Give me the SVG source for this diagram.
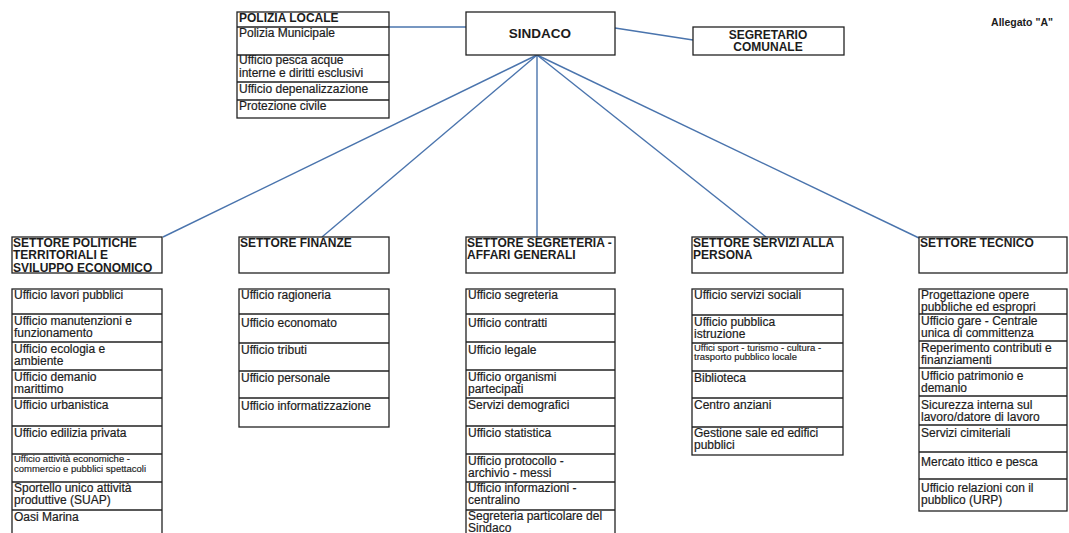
<svg xmlns="http://www.w3.org/2000/svg" width="1069" height="533" viewBox="0 0 1069 533">
<style>
.bg{fill:#fff}
.box{fill:#fff;stroke:#222;stroke-width:1.3}
.ln{stroke:#222;stroke-width:1.3;fill:none}
.conn{stroke:#4a74ad;stroke-width:1.4;fill:none}
text{font-family:"Liberation Sans",Arial,sans-serif;fill:#1c1c1c}
.t{font-size:12px;stroke:#1c1c1c;stroke-width:0.2}
.s{font-size:9.5px;stroke:#1c1c1c;stroke-width:0.15}
.h{font-size:12px;font-weight:bold}
.big{font-size:13.5px;font-weight:bold}
.mid{text-anchor:middle}
</style>
<rect class="bg" x="0" y="0" width="1069" height="533"/>
<g id="connectors">
<line class="conn" x1="389" y1="27" x2="466" y2="27"/>
<line class="conn" x1="615" y1="28" x2="693" y2="40"/>
<line class="conn" x1="537" y1="55" x2="163" y2="237"/>
<line class="conn" x1="537" y1="55" x2="322" y2="237"/>
<line class="conn" x1="537" y1="55" x2="537" y2="237"/>
<line class="conn" x1="537" y1="55" x2="766" y2="237"/>
<line class="conn" x1="537" y1="55" x2="919" y2="238"/>
</g>
<g id="allegato"><text class="h" x="1053" y="26" text-anchor="end" style="font-size:10.5px">Allegato "A"</text></g>
<g id="sindaco">
<rect class="box" x="466" y="12" width="149" height="43"/>
<text class="big mid" x="540" y="38">SINDACO</text>
</g>
<g id="segretario">
<rect class="box" x="693" y="27" width="151" height="28"/>
<text class="h mid" x="768" y="38.5">SEGRETARIO</text>
<text class="h mid" x="768" y="50.5">COMUNALE</text>
</g>
<g id="polizia">
<rect class="box" x="237" y="12" width="152" height="106"/>
<path class="ln" d="M237 27H389M237 55H389M237 82H389M237 100H389"/>
<text class="h" x="239" y="22">POLIZIA LOCALE</text>
<text class="t" x="239" y="37">Polizia Municipale</text>
<text class="t" x="239" y="64">Ufficio pesca acque</text>
<text class="t" x="239" y="77">interne e diritti esclusivi</text>
<text class="t" x="239" y="93">Ufficio depenalizzazione</text>
<text class="t" x="239" y="110">Protezione civile</text>
</g>
<g id="settore-politiche">
<rect class="box" x="12" y="237" width="150" height="36"/>
<text class="h" x="13" y="246.5">SETTORE POLITICHE</text>
<text class="h" x="13" y="259">TERRITORIALI E</text>
<text class="h" x="13" y="271.5">SVILUPPO ECONOMICO</text>
</g>
<g id="uffici-politiche">
<rect class="box" x="12" y="289" width="150" height="252"/>
<path class="ln" d="M12 314H162M12 342H162M12 370H162M12 398H162M12 426H162M12 454H162M12 482H162M12 510H162"/>
<text class="t" x="14" y="299">Ufficio lavori pubblici</text>
<text class="t" x="14" y="325">Ufficio manutenzioni e</text>
<text class="t" x="14" y="337">funzionamento</text>
<text class="t" x="14" y="353">Ufficio ecologia e</text>
<text class="t" x="14" y="365">ambiente</text>
<text class="t" x="14" y="381">Ufficio demanio</text>
<text class="t" x="14" y="393">marittimo</text>
<text class="t" x="14" y="409">Ufficio urbanistica</text>
<text class="t" x="14" y="437">Ufficio edilizia privata</text>
<text class="s" x="14" y="461.5">Ufficio attività economiche -</text>
<text class="s" x="14" y="471.5">commercio e pubblici spettacoli</text>
<text class="t" x="14" y="492">Sportello unico attività</text>
<text class="t" x="14" y="504">produttive (SUAP)</text>
<text class="t" x="14" y="521">Oasi Marina</text>
</g>
<g id="settore-finanze">
<rect class="box" x="239" y="237" width="150" height="36"/>
<text class="h" x="240" y="246.5">SETTORE FINANZE</text>
</g>
<g id="uffici-finanze">
<rect class="box" x="239" y="289" width="150" height="138"/>
<path class="ln" d="M239 314H389M239 343H389M239 371H389M239 398H389"/>
<text class="t" x="241" y="299">Ufficio ragioneria</text>
<text class="t" x="241" y="327">Ufficio economato</text>
<text class="t" x="241" y="354">Ufficio tributi</text>
<text class="t" x="241" y="382">Ufficio personale</text>
<text class="t" x="241" y="410">Ufficio informatizzazione</text>
</g>
<g id="settore-segreteria">
<rect class="box" x="466" y="237" width="149" height="36"/>
<text class="h" x="467" y="246.5">SETTORE SEGRETERIA -</text>
<text class="h" x="467" y="259">AFFARI GENERALI</text>
</g>
<g id="uffici-segreteria">
<rect class="box" x="466" y="289" width="149" height="252"/>
<path class="ln" d="M466 314H615M466 342H615M466 370H615M466 398H615M466 426H615M466 454H615M466 482H615M466 510H615"/>
<text class="t" x="468" y="299">Ufficio segreteria</text>
<text class="t" x="468" y="327">Ufficio contratti</text>
<text class="t" x="468" y="354">Ufficio legale</text>
<text class="t" x="468" y="381">Ufficio organismi</text>
<text class="t" x="468" y="393">partecipati</text>
<text class="t" x="468" y="409">Servizi demografici</text>
<text class="t" x="468" y="437">Ufficio statistica</text>
<text class="t" x="468" y="465">Ufficio protocollo -</text>
<text class="t" x="468" y="477">archivio - messi</text>
<text class="t" x="468" y="492">Ufficio informazioni -</text>
<text class="t" x="468" y="504">centralino</text>
<text class="t" x="468" y="520">Segreteria particolare del</text>
<text class="t" x="468" y="532">Sindaco</text>
</g>
<g id="settore-servizi">
<rect class="box" x="692" y="237" width="151" height="36"/>
<text class="h" x="693" y="246.5">SETTORE SERVIZI ALLA</text>
<text class="h" x="693" y="259">PERSONA</text>
</g>
<g id="uffici-servizi">
<rect class="box" x="692" y="289" width="151" height="166"/>
<path class="ln" d="M692 315H843M692 343H843M692 371H843M692 398H843M692 427H843"/>
<text class="t" x="694" y="299">Ufficio servizi sociali</text>
<text class="t" x="694" y="326">Ufficio pubblica</text>
<text class="t" x="694" y="338">istruzione</text>
<text class="s" x="694" y="350.5">Uffici sport - turismo - cultura -</text>
<text class="s" x="694" y="360">trasporto pubblico locale</text>
<text class="t" x="694" y="382">Biblioteca</text>
<text class="t" x="694" y="409">Centro anziani</text>
<text class="t" x="694" y="437">Gestione sale ed edifici</text>
<text class="t" x="694" y="449">pubblici</text>
</g>
<g id="settore-tecnico">
<rect class="box" x="919" y="237" width="148" height="36"/>
<text class="h" x="920" y="246.5">SETTORE TECNICO</text>
</g>
<g id="uffici-tecnico">
<rect class="box" x="919" y="289" width="148" height="222"/>
<path class="ln" d="M919 314H1067M919 341H1067M919 368H1067M919 396H1067M919 425H1067M919 452H1067M919 479H1067"/>
<text class="t" x="921" y="298.5">Progettazione opere</text>
<text class="t" x="921" y="310.5">pubbliche ed espropri</text>
<text class="t" x="921" y="324.5">Ufficio gare - Centrale</text>
<text class="t" x="921" y="336.5">unica di committenza</text>
<text class="t" x="921" y="352">Reperimento contributi e</text>
<text class="t" x="921" y="364">finanziamenti</text>
<text class="t" x="921" y="380">Ufficio patrimonio e</text>
<text class="t" x="921" y="392">demanio</text>
<text class="t" x="921" y="408.5">Sicurezza interna sul</text>
<text class="t" x="921" y="420.5">lavoro/datore di lavoro</text>
<text class="t" x="921" y="437">Servizi cimiteriali</text>
<text class="t" x="921" y="466">Mercato ittico e pesca</text>
<text class="t" x="921" y="492">Ufficio relazioni con il</text>
<text class="t" x="921" y="504">pubblico (URP)</text>
</g>
</svg>
